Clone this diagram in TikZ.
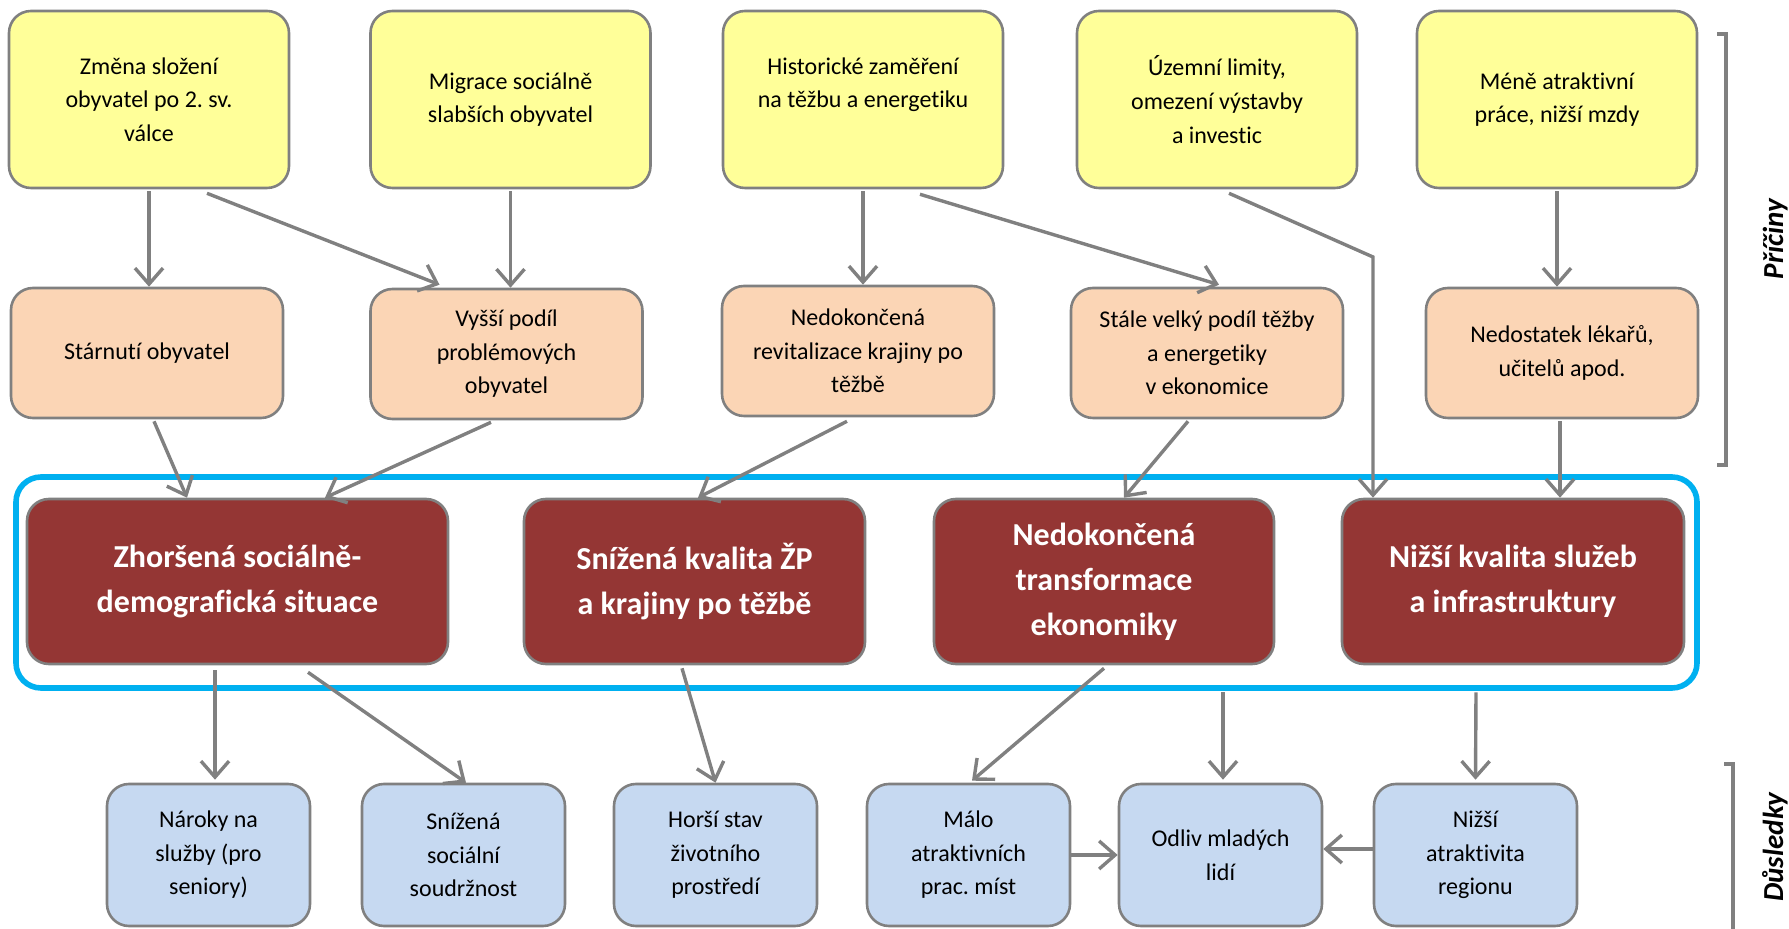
\documentclass[tikz,border=0pt]{standalone}
\usepackage{fontspec}
\setmainfont[Ligatures=NoCommon]{Carlito}
\usetikzlibrary{arrows.meta,calc}
\definecolor{cyel}{HTML}{FFFF99}
\definecolor{corg}{HTML}{FBD5B5}
\definecolor{cred}{HTML}{943634}
\definecolor{cblu}{HTML}{C6D9F1}
\definecolor{cgry}{HTML}{808080}
\definecolor{ccyan}{HTML}{00B0F0}
\frenchspacing
\begin{document}
\begin{tikzpicture}[x=0.5pt,y=-0.5pt,
 box/.style={draw=cgry, line width=1.3pt, rounded corners=11pt, align=center, inner sep=0pt, font=\fontsize{12}{16.8}\selectfont, text=black},
 ybox/.style={box, fill=cyel, minimum width=140pt, minimum height=88.5pt},
 obox/.style={box, fill=corg, minimum width=136pt, minimum height=65pt},
 rbox/.style={box, fill=cred, minimum height=82.5pt, text=white, font=\fontsize{16}{22.5}\selectfont\bfseries},
 bbox/.style={box, fill=cblu, minimum width=101.5pt, minimum height=71pt},
 arr/.style={draw=cgry, line width=1.7pt, -{Straight Barb[length=8pt,width=14pt,line width=1.7pt]}},
 brk/.style={draw=cgry, line width=1.6pt},
 side/.style={font=\fontsize{14.5}{17}\selectfont\bfseries\itshape, rotate=90, anchor=base, inner sep=0pt}
]
\path[use as bounding box] (0,0) rectangle (1789,929);
\clip (0,0) rectangle (1789,929);

% frame
\node[draw=ccyan, line width=2.8pt, rounded corners=12.5pt, minimum width=840.5pt, minimum height=105.5pt, inner sep=0pt] (frame) at (856.5,582.5) {};

% causes
\node[ybox] (Y1) at (149,99.5) {Změna složení\\obyvatel po 2. sv.\\válce};
\node[ybox] (Y2) at (510.5,99.5) {Migrace sociálně\\slabších obyvatel};
\node[ybox] (Y3) at (863,99.5) {Historické zaměření\\na těžbu a energetiku\\\mbox{}};
\node[ybox] (Y4) at (1217,99.5) {Územní limity,\\omezení výstavby\\a investic};
\node[ybox] (Y5) at (1557,99.5) {Méně atraktivní\\práce, nižší mzdy};

\node[obox] (O1) at (147,353) {Stárnutí obyvatel};
\node[obox] (O2) at (506.5,354) {Vyšší podíl\\problémových\\obyvatel};
\node[obox] (O3) at (858,351) {Nedokončená\\revitalizace krajiny po\\těžbě};
\node[obox] (O4) at (1207,353) {Stále velký podíl těžby\\a energetiky\\v ekonomice};
\node[obox] (O5) at (1562,353) {Nedostatek lékařů,\\učitelů apod.};

% core problems
\node[rbox, minimum width=210.5pt] (R1) at (237.5,581.5) {Zhoršená sociálně-\\demografická situace};
\node[rbox, minimum width=170.5pt] (R2) at (694.5,581.5) {Snížená kvalita ŽP\\a krajiny po těžbě};
\node[rbox, minimum width=170pt] (R3) at (1104,581.5) {Nedokončená\\transformace\\ekonomiky};
\node[rbox, minimum width=171pt] (R4) at (1513,581.5) {Nižší kvalita služeb\\a infrastruktury};

% consequences
\node[bbox] (B1) at (208.5,855) {Nároky na\\služby (pro\\seniory)};
\node[bbox] (B2) at (463.5,855) {Snížená\\sociální\\soudržnost};
\node[bbox] (B3) at (715.5,855) {Horší stav\\životního\\prostředí};
\node[bbox] (B4) at (968.5,855) {Málo\\atraktivních\\prac. míst};
\node[bbox] (B5) at (1220.5,855) {Odliv mladých\\lidí};
\node[bbox] (B6) at (1475.5,855) {Nižší\\atraktivita\\regionu};

% arrows: causes
\draw[arr] ($(Y1.south)+(0,2)$) -- (Y1.south |- O1.north);
\draw[arr] ($(Y1.south)+(58,4)$) -- ($(O2.north)+(-67,-3)$);
\draw[arr] ($(Y2.south)+(0,2)$) -- (Y2.south |- O2.north);
\draw[arr] ($(Y3.south)+(0,2)$) -- (Y3.south |- O3.north);
\draw[arr] ($(Y3.south)+(57,5)$) -- ($(O4.north)+(12,-2)$);
\coordinate (k4) at (1373,257);
\draw[arr] ($(Y4.south)+(12,4)$) -- (k4) -- (k4 |- R4.north);
\draw[arr] ($(Y5.south)+(0,2)$) -- (Y5.south |- O5.north);

\draw[arr] ($(O1.south)+(7,2)$) -- ($(R1.north)+(-50.5,0)$);
\draw[arr] ($(O2.south)+(-15.5,2)$) -- ($(R1.north)+(87.5,0)$);
\draw[arr] ($(O3.south)+(-11,4)$) -- ($(R2.north)+(3.5,0)$);
\draw[arr] ($(O4.south)+(-19,2)$) -- ($(R3.north)+(20,0)$);
\draw[arr] ($(O5.south)+(-2,2)$) -- ($(O5.south |- R4.north)+(-2,0)$);

% arrows: consequences
\draw[arr] ($(R1.south)+(-22.5,5)$) -- ($(B1.north)+(6.5,-3)$);
\draw[arr] ($(R1.south)+(70.5,7)$) -- ($(B2.north)+(2.5,0)$);
\draw[arr] ($(R2.south)+(-12.5,3)$) -- (B3.north);
\draw[arr] ($(R3.south)+(0,3)$) -- ($(B4.north)+(3.5,-2)$);
\draw[arr] ($(R3.south)+(119,27)$) -- ($(B5.north)+(2.5,-3)$);
\draw[arr] ($(R4.south)+(-37,27)$) -- ($(B6.north)+(0,-3)$);
\draw[arr] (B4.east) -- (B5.west);
\draw[arr] ($(B6.west)+(0,-6)$) -- ($(B5.east)+(0,-6)$);

% side brackets and labels
\coordinate (p1) at (1717,34);
\coordinate (p2) at (1726,465);
\draw[brk] (p1) -- (p1 -| p2) -- (p2) -- (p2 -| p1);
\coordinate (d1) at (1724,764);
\coordinate (d2) at (1733,940);
\draw[brk] (d1) -- (d1 -| d2) -- (d2);
\node[side] (L1) at (1783,239) {Příčiny};
\node[side] (L2) at (1783,847) {Důsledky};
\end{tikzpicture}
\end{document}
